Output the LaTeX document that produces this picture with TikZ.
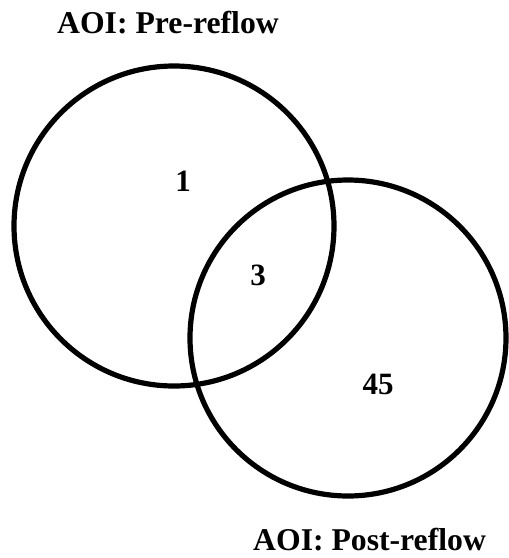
\documentclass[tikz,border=0pt]{standalone}
\usepackage{fontspec}
\setmainfont{Liberation Serif}
\begin{document}
\begin{tikzpicture}[x=1pt,y=-1pt,
  ring/.style={draw=black,line width=5.2pt},
  lbl/.style={font=\fontsize{31.7}{36}\selectfont\bfseries,inner sep=0pt,text depth=0pt},
  num/.style={font=\fontsize{31}{36}\selectfont\bfseries,inner sep=0pt}]
\useasboundingbox (0,0) rectangle (509,558);
\node[ring,circle,minimum size=320pt,inner sep=0pt] (pre) at (174,226) {};
\node[ring,circle,minimum size=316pt,inner sep=0pt] (post) at (348,338) {};
\node[lbl,anchor=base west] (tpre) at (57,33) {AOI: Pre-reflow};
\node[lbl,anchor=base west] (tpost) at (253,550) {AOI: Post-reflow};
\node[num] (n1) at (183,181) {1};
\node[num] (n3) at (258,275) {3};
\node[num] (n45) at (378,384) {45};
\end{tikzpicture}
\end{document}
